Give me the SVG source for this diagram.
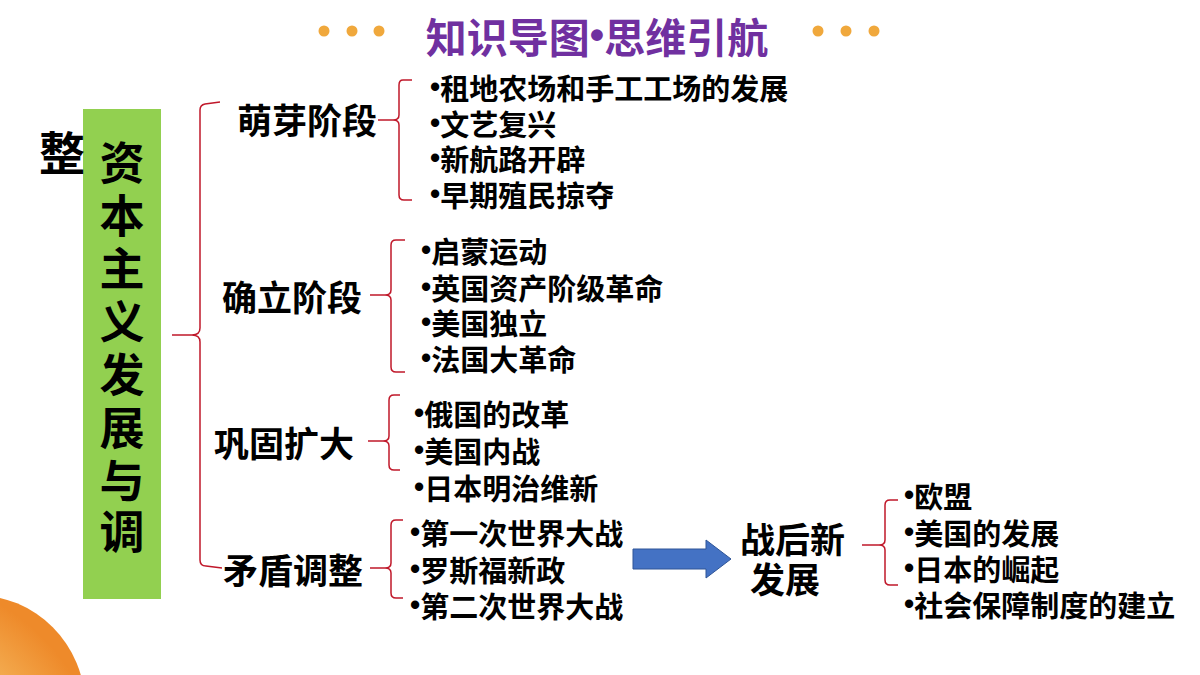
<svg xmlns="http://www.w3.org/2000/svg" width="1200" height="675" viewBox="0 0 1200 675">
<defs>
<radialGradient id="og" cx="0.1" cy="0.9" r="1"><stop offset="0" stop-color="#fff6d8"/><stop offset="0.5" stop-color="#f8c870"/><stop offset="1" stop-color="#ee8a2a"/></radialGradient>
</defs>
<style>
text{font-family:"Noto Sans CJK SC","Noto Sans",sans-serif;font-weight:bold;fill:#000}
.it{font-size:29px;dominant-baseline:central}
.b{font-family:"Liberation Sans",sans-serif}
.st{font-size:35px;dominant-baseline:central}
.br{fill:none;stroke:#c0182a;stroke-width:1.5}
.dot{fill:#f0a83c}
</style>
<rect width="1200" height="675" fill="#fff"/>
<circle cx="-25" cy="705" r="110" fill="url(#og)"/>
<g id="title">
<circle class="dot" cx="324" cy="31" r="5.5"/><circle class="dot" cx="352" cy="31" r="5.5"/><circle class="dot" cx="379" cy="31" r="5.5"/>
<circle class="dot" cx="818" cy="31" r="5.5"/><circle class="dot" cx="846" cy="31" r="5.5"/><circle class="dot" cx="874" cy="31" r="5.5"/>
<text x="597" y="35" text-anchor="middle" dominant-baseline="central" style="font-size:41px;fill:#7030a0">知识导图<tspan class="b">•</tspan>思维引航</text>
</g>
<g id="root">
<rect x="83" y="109" width="78" height="490" fill="#92d050"/>
<text x="62" y="150" text-anchor="middle" dominant-baseline="central" style="font-size:46px">整</text>
<g style="font-size:45px" text-anchor="middle">
<text x="122" y="160" dominant-baseline="central">资</text>
<text x="122" y="213" dominant-baseline="central">本</text>
<text x="122" y="266" dominant-baseline="central">主</text>
<text x="122" y="319" dominant-baseline="central">义</text>
<text x="122" y="372" dominant-baseline="central">发</text>
<text x="122" y="425" dominant-baseline="central">展</text>
<text x="122" y="478" dominant-baseline="central">与</text>
<text x="122" y="529" dominant-baseline="central">调</text>
</g>
</g>
<g id="connectors">
<path class="br" d="M220,102 L205,104 Q200,105 200,110 L200,328 Q200,335 192,335 L172,335 M192,335 Q200,335 200,342 L200,560 Q200,566 206,566 L222,568"/>
<path class="br" d="M412,80 L403,80 Q399,80 399,85 L399,115 Q399,120 393,120 L378,120 M393,120 Q399,120 399,125 L399,195 Q399,200 404,200 L412,200"/>
<path class="br" d="M405,240 L396,240 Q391,240 391,245 L391,290 Q391,295 385,295 L370,295 M385,295 Q391,295 391,300 L391,367 Q391,372 396,372 L405,372"/>
<path class="br" d="M400,395 L394,395 Q389,395 389,400 L389,436 Q389,441 383,441 L368,441 M383,441 Q389,441 389,446 L389,465 Q389,470 394,470 L400,470"/>
<path class="br" d="M403,520 L396,520 Q391,520 391,525 L391,563 Q391,568 385,568 L370,568 M385,568 Q391,568 391,573 L391,593 Q391,598 396,598 L403,598"/>
<path class="br" d="M898,500 L890,500 Q885,500 885,505 L885,540 Q885,545 879,545 L862,545 M879,545 Q885,545 885,550 L885,580 Q885,585 890,585 L898,585"/>
<polygon points="633,549 706,549 706,540 731,559 706,578 706,569 633,569" fill="#4472c4" stroke="#2f5597" stroke-width="1"/>
</g>
<g id="n1"><text class="st" x="237" y="118">萌芽阶段</text>
<text class="it" x="430" y="87"><tspan class="b">•</tspan>租地农场和手工工场的发展</text><text class="it" x="430" y="123"><tspan class="b">•</tspan>文艺复兴</text><text class="it" x="430" y="158"><tspan class="b">•</tspan>新航路开辟</text><text class="it" x="430" y="194"><tspan class="b">•</tspan>早期殖民掠夺</text></g>
<g id="n2"><text class="st" x="222" y="295">确立阶段</text>
<text class="it" x="421" y="250"><tspan class="b">•</tspan>启蒙运动</text><text class="it" x="421" y="287"><tspan class="b">•</tspan>英国资产阶级革命</text><text class="it" x="421" y="322"><tspan class="b">•</tspan>美国独立</text><text class="it" x="421" y="358"><tspan class="b">•</tspan>法国大革命</text></g>
<g id="n3"><text class="st" x="214" y="441">巩固扩大</text>
<text class="it" x="414" y="413"><tspan class="b">•</tspan>俄国的改革</text><text class="it" x="414" y="450"><tspan class="b">•</tspan>美国内战</text><text class="it" x="414" y="487"><tspan class="b">•</tspan>日本明治维新</text></g>
<g id="n4"><text class="st" x="223" y="568">矛盾调整</text>
<text class="it" x="410" y="532"><tspan class="b">•</tspan>第一次世界大战</text><text class="it" x="410" y="569"><tspan class="b">•</tspan>罗斯福新政</text><text class="it" x="410" y="605"><tspan class="b">•</tspan>第二次世界大战</text></g>
<g id="n5"><text class="st" x="740" y="537">战后新</text><text class="st" x="750" y="577">发展</text>
<text class="it" x="904" y="495"><tspan class="b">•</tspan>欧盟</text><text class="it" x="904" y="532"><tspan class="b">•</tspan>美国的发展</text><text class="it" x="904" y="568"><tspan class="b">•</tspan>日本的崛起</text><text class="it" x="904" y="604"><tspan class="b">•</tspan>社会保障制度的建立</text></g>
</svg>
